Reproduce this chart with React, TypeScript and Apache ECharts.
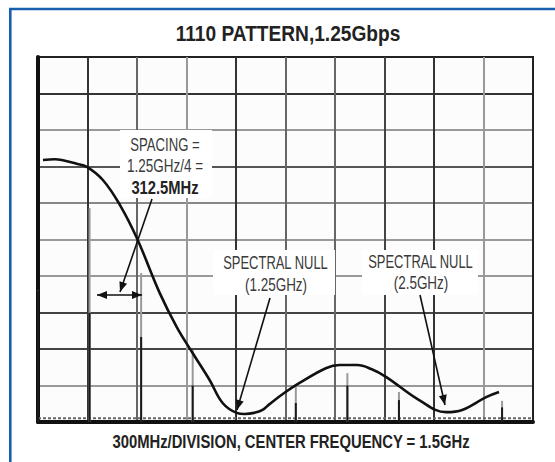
import React, { useEffect, useRef } from "react";
import * as echarts from "echarts";

// Envelope (sinc-like) curve: frequency in MHz, amplitude in divisions
const envelopeFreq = [30, 103, 151, 230, 296, 393, 496, 599, 738, 841, 937, 1040, 1119, 1204, 1252, 1310, 1361, 1403, 1494, 1585, 1748, 1827, 1935, 2020, 2111, 2310, 2474, 2571, 2716, 2794];
const envelopeAmp = [7.18, 7.2, 7.17, 7.08, 6.99, 6.63, 5.95, 5.04, 3.53, 2.6, 1.89, 1.15, 0.52, 0.25, 0.22, 0.25, 0.33, 0.49, 0.8, 1.07, 1.48, 1.56, 1.56, 1.45, 1.23, 0.6, 0.27, 0.33, 0.68, 0.82];

// Spectral lines (312.5MHz spacing)
const lineFreq = [0, 312.5, 625, 937.5, 1562.5, 1875, 2187.5, 2812.5];
const lineFaint = [3.6, 5.86, 4.08, 1.97, 1.02, 1.34, 0.82, 0.58];
const lineStrong = [3.6, 2.99, 2.33, 1.0, 0.52, 1.0, 0.6, 0.4];

const noiseFloor = [[0, 0.1], [3000, 0.1]];

const xSplitColors = ["#222", "#333", "#666", "#999", "#333", "#666", "#666", "#444", "#333", "#999", "#222"];
const ySplitColors = ["#111", "#999", "#444", "#444", "#999", "#999", "#888", "#555", "#999", "#333", "#222"];

const FONT = "Liberation Sans, Arial, sans-serif";

function arrow(x1: number, y1: number, x2: number, y2: number, both = false) {
  const els: any[] = [];
  els.push({ type: "line", shape: { x1, y1, x2, y2 }, style: { stroke: "#111", lineWidth: 1.6 }, z: 20 });
  const head = (tx: number, ty: number, fx: number, fy: number) => {
    const dx = tx - fx, dy = ty - fy;
    const len = Math.sqrt(dx * dx + dy * dy);
    const ux = dx / len, uy = dy / len;
    const L = 10, W = 4;
    const bx = tx - ux * L, by = ty - uy * L;
    return {
      type: "polygon",
      shape: { points: [[tx, ty], [bx - uy * W, by + ux * W], [bx + uy * W, by - ux * W]] },
      style: { fill: "#111" },
      z: 20,
    };
  };
  els.push(head(x2, y2, x1, y1));
  if (both) els.push(head(x1, y1, x2, y2));
  return els;
}

function txt(text: string, x: number, y: number, size: number, weight: string, sx: number, color = "#3a3a3a") {
  return {
    type: "text",
    x,
    y,
    scaleX: sx,
    z: 30,
    style: { text, fill: color, font: `${weight} ${size}px ${FONT}`, textAlign: "center", textVerticalAlign: "middle" },
  };
}

function box(x: number, y: number, w: number, h: number) {
  return { type: "rect", shape: { x, y, width: w, height: h }, style: { fill: "#ffffff" }, z: 15 };
}

export default function App() {
  const ref = useRef<HTMLDivElement>(null);
  useEffect(() => {
    if (!ref.current) return;
    const chart = echarts.init(ref.current, undefined, { renderer: "svg" });
    const envelope = envelopeFreq.map((f, i) => [f, envelopeAmp[i]]);
    chart.setOption({
      animation: false,
      backgroundColor: "#ffffff",
      grid: { left: 38, top: 57, width: 495, height: 365, show: true, backgroundColor: "#fcfcfc", borderColor: "#222", borderWidth: 2 },
      xAxis: {
        type: "value",
        min: 0,
        max: 3000,
        interval: 300,
        axisLabel: { show: false },
        axisTick: { show: false },
        axisLine: { show: true, lineStyle: { color: "#111", width: 4 } },
        splitLine: { show: true, lineStyle: { color: xSplitColors, width: 2 } },
      },
      yAxis: {
        type: "value",
        min: 0,
        max: 10,
        interval: 1,
        axisLabel: { show: false },
        axisTick: { show: false },
        axisLine: { show: true, lineStyle: { color: "#111", width: 4 } },
        splitLine: { show: true, lineStyle: { color: ySplitColors, width: 2 } },
      },
      series: [
        {
          type: "line",
          data: noiseFloor,
          symbol: "none",
          lineStyle: { color: "#666", width: 2, type: [3, 2] },
          z: 3,
        },
        {
          type: "bar",
          data: lineFreq.map((f, i) => [f, lineFaint[i]]),
          barWidth: 2,
          itemStyle: { color: "#9a9a9a" },
          z: 4,
        },
        {
          type: "bar",
          data: lineFreq.map((f, i) => [f, lineStrong[i]]),
          barWidth: 2,
          barGap: "-100%",
          itemStyle: { color: "#1a1a1a" },
          z: 5,
        },
        {
          type: "line",
          data: envelope,
          smooth: 0.4,
          symbol: "none",
          lineStyle: { color: "#111", width: 2.6 },
          z: 10,
        },
      ],
      graphic: [
        { type: "line", shape: { x1: 9, y1: 9, x2: 555, y2: 9 }, style: { stroke: "#1a5fae", lineWidth: 2.6 } },
        { type: "line", shape: { x1: 10.3, y1: 8, x2: 10.3, y2: 462 }, style: { stroke: "#1a5fae", lineWidth: 2.6 } },
        txt("1110 PATTERN,1.25Gbps", 288, 33, 22, "bold", 0.87, "#222"),
        txt("300MHz/DIVISION, CENTER FREQUENCY = 1.5GHz", 291, 442, 19, "bold", 0.78, "#222"),
        box(120, 130, 92, 68),
        txt("SPACING =", 165, 145, 18, "normal", 0.73),
        txt("1.25GHz/4 =", 165, 166, 18, "normal", 0.75),
        txt("312.5MHz", 165, 187, 18, "bold", 0.82, "#222"),
        box(213, 250, 122, 45),
        txt("SPECTRAL NULL", 275.5, 263, 18, "normal", 0.72),
        txt("(1.25GHz)", 276, 285, 18, "normal", 0.75),
        box(362, 250, 116, 45),
        txt("SPECTRAL NULL", 420.5, 262, 18, "normal", 0.72),
        txt("(2.5GHz)", 421, 283, 18, "normal", 0.75),
        ...arrow(152, 199, 120, 292),
        ...arrow(97, 295, 142, 295, true),
        ...arrow(270, 298, 237, 410),
        ...arrow(420, 295, 445, 405),
      ],
    });
    return () => chart.dispose();
  }, []);
  return <div ref={ref} style={{ position: "fixed", left: 0, top: 0, width: 555, height: 462 }} />;
}
